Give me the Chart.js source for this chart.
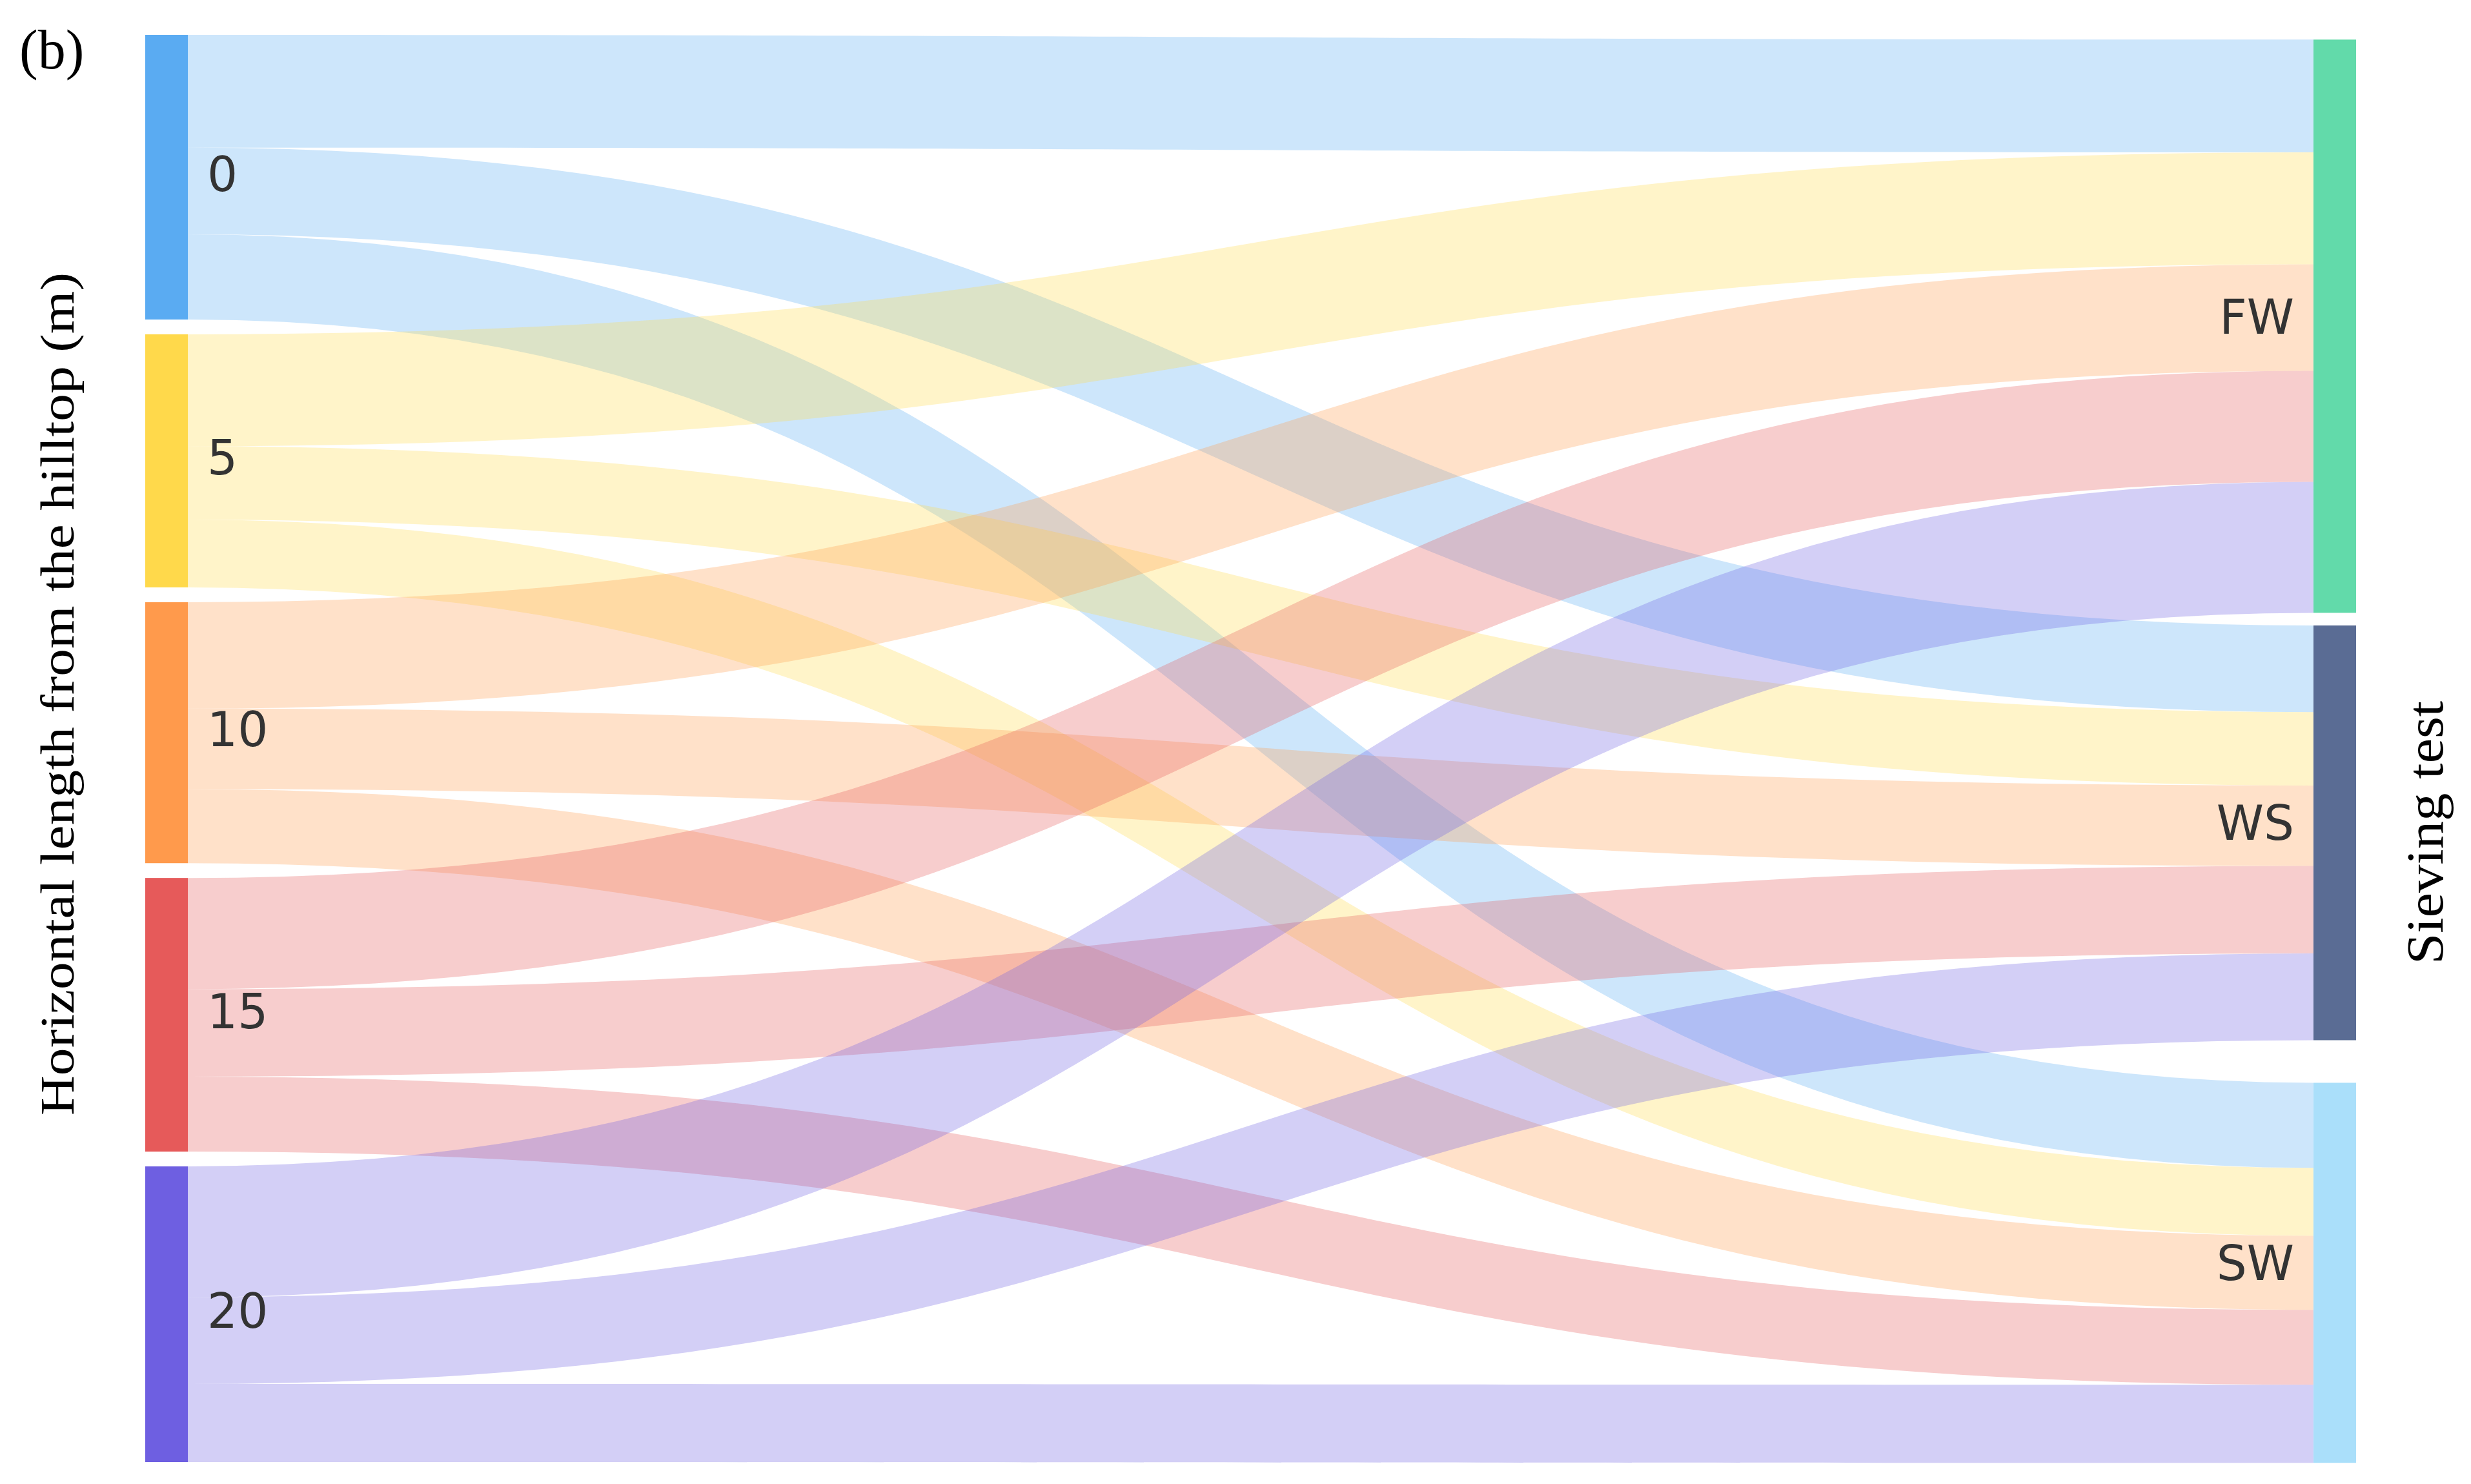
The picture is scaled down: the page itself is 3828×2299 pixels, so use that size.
<!DOCTYPE html>
<html>
<head>
<meta charset="utf-8">
<script src="https://cdn.jsdelivr.net/npm/chart.js@4.4.1/dist/chart.umd.min.js"></script>
<style>
  html, body { margin: 0; padding: 0; background: #fff; }
  #wrap { width: 3828px; height: 2299px; position: relative; }
</style>
</head>
<body>
<div id="wrap"><canvas id="sankeyChart"></canvas></div>
<script>
// source nodes (horizontal length from hilltop, m) and target nodes (sieving test)
const sourceLabels = ['0', '5', '10', '15', '20'];
const targetLabels = ['FW', 'WS', 'SW'];

// flow size from each source into each target
const toFW = [71.5, 71, 67.5, 70.5, 83];
const toWS = [55, 46.5, 51, 55.5, 55];
const toSW = [54, 43, 47, 47.5, 49.5];

const sourceColors = ['#5aabf2', '#ffd94b', '#ff9a4c', '#e65a5a', '#6e5fe1'];
const targetColors = ['#62daaa', '#5a6c94', '#aadffa'];

const flows = [toFW, toWS, toSW];

// layout in value units
const yMax = 905;
const nodeWidth = 1.93;
const leftGap = 9.375;
const rightStart = 3;
const rightGaps = [8, 27];

function buildLayout() {
    const srcTotals = sourceLabels.map((_, i) => flows.reduce((s, f) => s + f[i], 0));
    const tgtTotals = flows.map(f => f.reduce((s, v) => s + v, 0));
    const src = [];
    let y = 0;
    srcTotals.forEach(t => { src.push({ y0: y, y1: y + t }); y += t + leftGap; });
    const tgt = [];
    y = rightStart;
    tgtTotals.forEach((t, j) => { tgt.push({ y0: y, y1: y + t }); y += t + (rightGaps[j] || 0); });

    const links = [];
    const srcOff = src.map(n => n.y0);
    const tgtOff = tgt.map(n => n.y0);
    for (let i = 0; i < sourceLabels.length; i++) {
        for (let j = 0; j < targetLabels.length; j++) {
            const v = flows[j][i];
            links.push({ s: i, t: j, s0: srcOff[i], s1: srcOff[i] + v });
            srcOff[i] += v;
        }
    }
    for (let j = 0; j < targetLabels.length; j++) {
        links.filter(l => l.t === j).forEach(l => {
            const v = l.s1 - l.s0;
            l.t0 = tgtOff[j];
            l.t1 = tgtOff[j] + v;
            tgtOff[j] += v;
        });
    }
    return { src, tgt, links };
}

function hexToRgba(hex, a) {
    const n = parseInt(hex.slice(1), 16);
    return `rgba(${(n >> 16) & 255}, ${(n >> 8) & 255}, ${n & 255}, ${a})`;
}

function rotatedText(ctx, text, x, y, font, length) {
    ctx.save();
    ctx.font = font;
    ctx.fillStyle = '#000';
    ctx.textAlign = 'center';
    ctx.textBaseline = 'alphabetic';
    const w = ctx.measureText(text).width;
    ctx.translate(x, y);
    ctx.rotate(-Math.PI / 2);
    ctx.scale(length / w, 1);
    ctx.fillText(text, 0, 0);
    ctx.restore();
}

const sankeyPlugin = {
    id: 'sankeyPlugin',
    afterDatasetsDraw(chart) {
        const ctx = chart.ctx;
        const xs = chart.scales.x;
        const ys = chart.scales.y;
        const { src, tgt, links } = buildLayout();
        const xL = xs.getPixelForValue(nodeWidth);
        const xR = xs.getPixelForValue(100 - nodeWidth);
        const xM = (xL + xR) / 2;

        // links
        links.forEach(l => {
            const a0 = ys.getPixelForValue(l.s0), a1 = ys.getPixelForValue(l.s1);
            const b0 = ys.getPixelForValue(l.t0), b1 = ys.getPixelForValue(l.t1);
            ctx.beginPath();
            ctx.moveTo(xL, a0);
            ctx.bezierCurveTo(xM, a0, xM, b0, xR, b0);
            ctx.lineTo(xR, b1);
            ctx.bezierCurveTo(xM, b1, xM, a1, xL, a1);
            ctx.closePath();
            ctx.fillStyle = hexToRgba(sourceColors[l.s], 0.3);
            ctx.fill();
        });

        // nodes
        const x0 = xs.getPixelForValue(0);
        const x100 = xs.getPixelForValue(100);
        src.forEach((n, i) => {
            const top = ys.getPixelForValue(n.y0), bot = ys.getPixelForValue(n.y1);
            ctx.fillStyle = sourceColors[i];
            ctx.fillRect(x0, top, xL - x0, bot - top);
        });
        tgt.forEach((n, j) => {
            const top = ys.getPixelForValue(n.y0), bot = ys.getPixelForValue(n.y1);
            ctx.fillStyle = targetColors[j];
            ctx.fillRect(xR, top, x100 - xR, bot - top);
        });

        // node labels
        ctx.save();
        ctx.font = '74px "DejaVu Sans"';
        ctx.fillStyle = '#333';
        ctx.textBaseline = 'middle';
        ctx.textAlign = 'left';
        src.forEach((n, i) => {
            const mid = ys.getPixelForValue((n.y0 + n.y1) / 2);
            ctx.fillText(sourceLabels[i], xL + 30, mid + 2);
        });
        ctx.textAlign = 'right';
        tgt.forEach((n, j) => {
            const mid = ys.getPixelForValue((n.y0 + n.y1) / 2);
            ctx.fillText(targetLabels[j], xR - 30, mid - 8);
        });
        ctx.restore();

        // titles
        ctx.save();
        ctx.font = '86px "Liberation Serif"';
        ctx.fillStyle = '#000';
        ctx.textBaseline = 'alphabetic';
        ctx.fillText('(b)', 30, 106);
        ctx.restore();
        rotatedText(ctx, 'Horizontal length from the hilltop (m)', 114, 1075, '74px "Liberation Serif"', 1306);
        rotatedText(ctx, 'Sieving test', 3784, 1290, '80px "Liberation Serif"', 408);
    }
};

const sankeyConfig = {
    type: 'scatter',
    data: { datasets: [] },
    options: {
        responsive: true,
        maintainAspectRatio: false,
        animation: false,
        plugins: {
            legend: { display: false },
            tooltip: { enabled: false }
        },
        scales: {
            x: { type: 'linear', min: 0, max: 100, display: false },
            y: { type: 'linear', min: 0, max: yMax, reverse: true, display: false }
        },
        layout: {
            padding: { left: 225, right: 178, top: 54, bottom: 34 }
        }
    },
    plugins: [sankeyPlugin]
};

new Chart(document.getElementById('sankeyChart').getContext('2d'), sankeyConfig);
</script>
</body>
</html>
